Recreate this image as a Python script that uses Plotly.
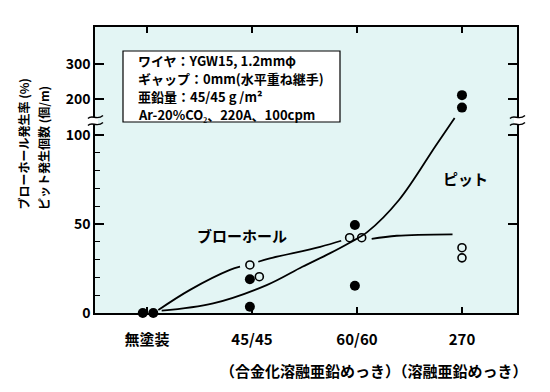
import plotly.graph_objects as go

# ---------------- data ----------------
categories = ["無塗装", "45/45", "60/60", "270"]
cat_pos = [0, 1, 2, 3]

# pit (filled dots) : category index, value
pit_cat = [0, 0, 1, 1, 2, 2, 3, 3]
pit_val = [0, 0, 19, 3.5, 49.4, 15.3, 212, 177]

# blowhole (open circles)
bh_cat = [1, 1, 2, 2, 3, 3]
bh_val = [27, 20.4, 42.3, 42.3, 36.7, 31]

# trend curves (x in category units, value)
bh_curve_x = [0.108, 0.41, 0.79, 0.886, None, 1.06, 1.17, 1.65, 1.85, None, 2.14, 2.38, 2.91]
bh_curve_v = [1.7, 13, 24.2, 26, None, 28.8, 30.7, 37.2, 40.6, None, 41.6, 43.4, 44.2]

pit_curve_x = [0.14, 0.63, 1.14, 1.48, 1.74, 1.93, 2.1, 2.4, 2.75, 2.93]
pit_curve_v = [1.3, 5.4, 15.7, 26, 33.5, 39.5, 45.6, 63.5, 94, 148]

y_tick_vals = [0, 50, 100, 200, 300]
y_tick_text = ["0", "50", "100", "200", "300"]
y_minor_vals = [10, 20, 30, 40, 60, 70, 80, 90]
y_right_ticks = [50, 100, 200, 300]

ytitle1 = "ブローホール発生率 (%)"
ytitle2 = "ピット発生個数 (個/m)"
caption = "（合金化溶融亜鉛めっき）（溶融亜鉛めっき）"
box_lines = ["ワイヤ：YGW15, 1.2mmφ",
             "ギャップ：0mm(水平重ね継手)",
             "亜鉛量：45/45 g /m²",
             "Ar-20%CO₂、220A、100cpm"]

# ---------------- helpers ----------------
def tf(v):
    """broken axis: linear to 100, compressed above"""
    if v is None:
        return None
    return v if v <= 100 else 100 + (v - 100) * 0.2

FONT = "Noto Sans CJK JP"
pit_jitter = [-0.04, 0.06, -0.02, -0.02, -0.02, -0.02, 0, 0]
bh_jitter = [-0.02, 0.07, -0.07, 0.045, 0, 0]

OFF = 8                      # page body margin
W, H = 550 - OFF, 392 - OFF
ML, MT = 95 - OFF, 27 - OFF
PW, PH = 422, 286
MR, MB = W - ML - PW, H - MT - PH
YMAX = 160.7

def px2paper_x(px):
    return (px - 95) / PW

def px2paper_y(py):
    return (313 - py) / PH

fig = go.Figure()

fig.add_trace(go.Scatter(
    x=bh_curve_x, y=[tf(v) for v in bh_curve_v], mode="lines",
    line=dict(color="black", width=1.8, shape="spline"),
    connectgaps=False, hoverinfo="skip", showlegend=False))
fig.add_trace(go.Scatter(
    x=pit_curve_x, y=[tf(v) for v in pit_curve_v], mode="lines",
    line=dict(color="black", width=1.8, shape="spline", smoothing=1.0),
    hoverinfo="skip", showlegend=False))

fig.add_trace(go.Scatter(
    x=[c + j for c, j in zip(pit_cat, pit_jitter)], y=[tf(v) for v in pit_val],
    mode="markers", marker=dict(symbol="circle", size=10, color="black"),
    cliponaxis=False, showlegend=False))
fig.add_trace(go.Scatter(
    x=[c + j for c, j in zip(bh_cat, bh_jitter)], y=[tf(v) for v in bh_val],
    mode="markers",
    marker=dict(symbol="circle-open", size=8, color="black", line=dict(width=1.6)),
    cliponaxis=False, showlegend=False))

# invisible trace for right axis
fig.add_trace(go.Scatter(x=[0], y=[0], yaxis="y2", mode="markers",
                         marker=dict(opacity=0), hoverinfo="skip", showlegend=False))

fig.update_layout(
    width=W, height=H,
    margin=dict(l=ML, r=MR, t=MT, b=MB, autoexpand=False),
    paper_bgcolor="white", plot_bgcolor="#e3f5f4",
    font=dict(family=FONT, color="black"),
    xaxis=dict(range=[-0.495, 3.524], tickvals=cat_pos, ticktext=categories,
               ticks="inside", ticklen=6, tickwidth=1.5, tickcolor="black",
               showline=True, linecolor="black", linewidth=1.5, mirror="ticks",
               showgrid=False, zeroline=False, ticklabelstandoff=12,
               tickfont=dict(size=15, family=FONT, weight="bold")),
    yaxis=dict(range=[0, YMAX], tickvals=[tf(v) for v in y_tick_vals], ticktext=y_tick_text,
               ticks="inside", ticklen=9, tickwidth=1.5, tickcolor="black",
               minor=dict(tickvals=y_minor_vals, ticks="inside", ticklen=5,
                          tickwidth=1.2, tickcolor="black", showgrid=False),
               showline=True, linecolor="black", linewidth=1.5,
               showgrid=False, zeroline=False,
               tickfont=dict(size=14, family=FONT, weight="bold")),
    yaxis2=dict(range=[0, YMAX], overlaying="y", side="right",
                tickvals=[tf(v) for v in y_right_ticks], showticklabels=False,
                ticks="inside", ticklen=9, tickwidth=1.5, tickcolor="black",
                showline=True, linecolor="black", linewidth=1.5,
                showgrid=False, zeroline=False),
)

# text labels in plot
fig.add_annotation(x=0.905, y=tf(43.3), text="ブローホール", showarrow=False,
                   font=dict(size=15, family=FONT, weight="bold"))
fig.add_annotation(x=3.03, y=tf(75.8), text="ピット", showarrow=False,
                   font=dict(size=15, family=FONT, weight="bold"))

# condition box
fig.add_shape(type="rect", xref="paper", yref="paper",
              x0=px2paper_x(123), x1=px2paper_x(340),
              y0=px2paper_y(122), y1=px2paper_y(51),
              fillcolor="white", line=dict(color="black", width=1.2), layer="above")
for i, line in enumerate(box_lines):
    fig.add_annotation(xref="paper", yref="paper", x=px2paper_x(136),
                       y=px2paper_y(60 + 18.3 * i),
                       xanchor="left", yanchor="middle", align="left",
                       text=line, showarrow=False,
                       font=dict(size=13, family=FONT, weight="bold"))

# y-axis titles (rotated)
fig.add_annotation(xref="paper", yref="paper", x=px2paper_x(23), y=px2paper_y(212),
                   xanchor="center", yanchor="bottom", textangle=-90,
                   text=ytitle1, showarrow=False,
                   font=dict(size=12, family=FONT, weight="bold"))
fig.add_annotation(xref="paper", yref="paper", x=px2paper_x(43), y=px2paper_y(212),
                   xanchor="center", yanchor="bottom", textangle=-90,
                   text=ytitle2, showarrow=False,
                   font=dict(size=12, family=FONT, weight="bold"))

# caption
fig.add_annotation(xref="paper", yref="paper", x=px2paper_x(374), y=px2paper_y(370),
                   xanchor="center", yanchor="middle", text=caption, showarrow=False,
                   font=dict(size=15, family=FONT, weight="bold"))

# axis break marks
def tilde(ax, cy):
    p = lambda x, y: f"{px2paper_x(x):.5f},{px2paper_y(y):.5f}"
    return (f"M {p(ax-7, cy+1.5)} C {p(ax-3, cy-3)} {p(ax+2, cy+4)} {p(ax+8, cy-1.5)}")

for ax in (95, 517):
    fig.add_shape(type="rect", xref="paper", yref="paper",
                  x0=px2paper_x(ax - 3), x1=px2paper_x(ax + 3),
                  y0=px2paper_y(124), y1=px2paper_y(117),
                  fillcolor="white", line=dict(width=0), layer="above")
    for cy in (117, 124):
        fig.add_shape(type="path", xref="paper", yref="paper", path=tilde(ax, cy),
                      line=dict(color="black", width=1.4), layer="above")

fig.write_html("out.html")
